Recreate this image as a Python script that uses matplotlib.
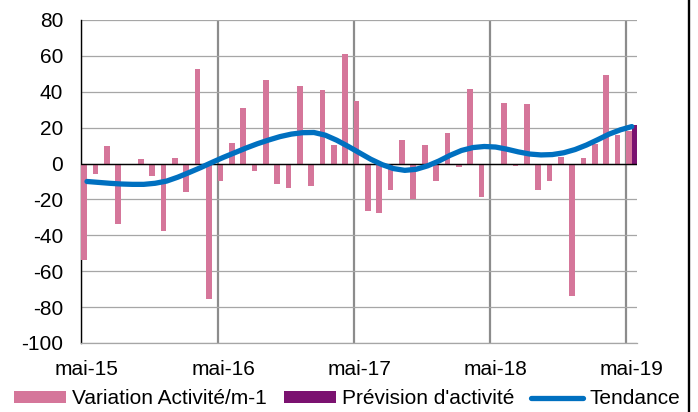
import matplotlib
matplotlib.use('Agg')
import matplotlib.pyplot as plt
from matplotlib.lines import Line2D
import numpy as np

plt.rcParams['font.family'] = ['Liberation Sans', 'DejaVu Sans']
plt.rcParams['axes.unicode_minus'] = False

# monthly data, mai-15 .. mai-19
variation = [-53.6, -5.6, 9.6, -33.6, -0.7, 2.8, -7.2, -37.5, 3.3, -15.8,
             52.5, -75.5, -9.5, 11.7, 30.8, -4.3, 46.6, -11.5, -13.4, 43.0,
             -12.4, 41.0, 10.2, 61.0, 34.7, -26.7, -27.5, -14.8, 13.2, -20.0,
             10.2, -9.6, 16.9, -2.2, 41.4, -18.6, -0.9, 33.8, -1.3, 33.0,
             -14.5, -9.5, 3.9, -74.0, 3.0, 10.8, 49.4, 16.1, 18.0]
prevision_month = [48]
prevision = [21.3]
tendance = [-10.0, -10.5, -11.0, -11.4, -11.6, -11.6, -11.0, -9.8, -7.6, -5.0,
            -2.3, 0.6, 3.4, 6.0, 8.6, 11.0, 13.1, 15.0, 16.4, 17.2,
            17.3, 15.8, 13.0, 9.6, 6.0, 2.4, -0.6, -2.8, -3.8, -3.2,
            -1.3, 1.4, 4.6, 7.3, 8.9, 9.5, 9.2, 8.0, 6.5, 5.3,
            4.8, 5.0, 6.0, 7.8, 10.3, 13.3, 16.4, 18.8, 20.6]
tick_months = [0, 12, 24, 36, 48]
tick_labels = ['mai-15', 'mai-16', 'mai-17', 'mai-18', 'mai-19']

x = np.arange(len(variation))

fig = plt.figure(figsize=(6.98, 4.12), dpi=100)
ax = fig.add_axes([0.1165, 0.1675, 0.7968, 0.784])

b1 = ax.bar(x, variation, width=0.5, align='edge', color='#D5769A',
            label='Variation Activité/m-1', zorder=3)
b2 = ax.bar(np.array(prevision_month) + 0.5, prevision, width=0.5, align='edge',
            color='#7B1270', label="Prévision d'activité", zorder=3)
l1, = ax.plot(x + 0.5, tendance, color='#0070C0', lw=3.8, solid_capstyle='round',
              label='Tendance', zorder=4)

ax.axhline(0, color='black', lw=1, zorder=3.5)

ax.set_xlim(0, len(variation))
ax.set_ylim(-100, 80)
ax.set_yticks(range(-100, 81, 20))
ax.yaxis.grid(True, color='#A6A6A6', lw=0.9)
ax.set_xticks(tick_months)
ax.set_xticklabels([])
ax.xaxis.grid(True, color='#8C8C8C', lw=1.6)
ax.set_xticks(np.array(tick_months) + 0.5, minor=True)
ax.set_xticklabels(tick_labels, minor=True)
ax.set_axisbelow(True)
ax.tick_params(axis='both', which='both', length=0, labelsize=15)
ax.tick_params(axis='y', pad=13)
ax.tick_params(axis='x', which='minor', pad=12)

for s in ['top', 'right']:
    ax.spines[s].set_visible(False)
ax.spines['bottom'].set_color('#A6A6A6')
ax.spines['bottom'].set_linewidth(0.9)
ax.spines['left'].set_color('black')
ax.spines['left'].set_linewidth(1)

fig.legend([b1, b2, l1], ['Variation Activité/m-1', "Prévision d'activité", 'Tendance'],
           loc='center', bbox_to_anchor=(0.497, 1 - 399 / 412), ncol=3,
           frameon=False, fontsize=15, handlelength=2.5, handleheight=0.5,
           handletextpad=0.3, columnspacing=0.8, borderpad=0, borderaxespad=0)

fig.add_artist(Line2D([688.5 / 698, 688.5 / 698], [0, 1], color='black', lw=1.7))

plt.savefig('out.png', dpi=100)
